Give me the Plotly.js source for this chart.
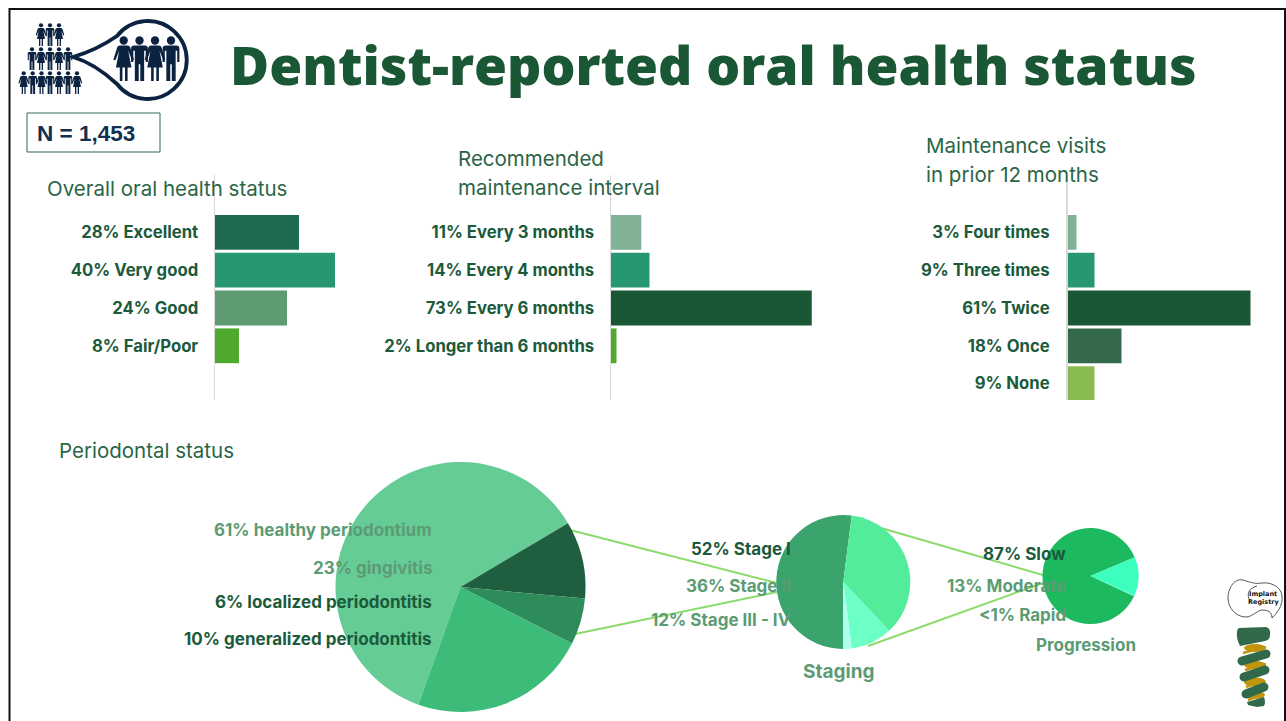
<!DOCTYPE html>
<html>
<head>
<meta charset="utf-8">
<script src="https://cdn.plot.ly/plotly-3.0.1.min.js"></script>
<style>html,body{margin:0;padding:0;background:#fff;overflow:hidden}#chart{width:1286px;height:721px}</style>
</head>
<body>
<div id="chart"></div>
<script>
// ---- data ----
const overallCats = ["Excellent","Very good","Good","Fair/Poor"];
const overallVals = [28,40,24,8];
const overallColors = ["#1F6B50","#279772","#5E9A72","#4FA92F"];

const intervalCats = ["Every 3 months","Every 4 months","Every 6 months","Longer than 6 months"];
const intervalVals = [11,14,73,2];
const intervalColors = ["#81B295","#279772","#1A5735","#4FA92F"];

const visitCats = ["Four times","Three times","Twice","Once","None"];
const visitVals = [3,9,61,18,9];
const visitColors = ["#81B295","#279772","#1A5735","#35694C","#8ABB50"];

const perioLabels = ["healthy periodontium","generalized periodontitis","localized periodontitis","gingivitis"];
const perioVals = [61,10,6,23];
const perioColors = ["#66CC96","#1F5F3F","#2E8B5A","#3DBB78"];

const stageLabels = ["Stage I","Stage II","Stage III","Stage IV"];
const stageVals = [52,36,10,2];
const stageColors = ["#3BA36C","#52EC9A","#6CFFC6","#ADFFF0"];

const progLabels = ["Slow","Moderate","Rapid"];
const progVals = [87,13,0.4];
const progColors = ["#1DB95F","#3CFFBE","#3CFFBE"];

// ---- layout helpers (page pixels to paper fractions) ----
const W = 1286, H = 721;
const fx = p => p / W, fy = p => 1 - p / H;
const DARK = "#1B5A3A", MUTED = "#5C9B74", TITLE = "#2A6546";
const LABEL_FONT = "Inter, 'Open Sans', sans-serif";

function ann(text, x, y, anchor, size, color, weight, family) {
  return {text, x: fx(x), y: fy(y), xref:"paper", yref:"paper", xanchor:anchor, yanchor:"middle",
    showarrow:false, borderpad:0, font:{family:family||LABEL_FONT, size, color, weight}};
}
function barTrace(cats, vals, colors, ax) {
  return {type:"bar", orientation:"h", x:vals, y:cats.map((c,i)=>vals[i]+"% "+c),
    marker:{color:colors, line:{width:0}}, xaxis:"x"+ax, yaxis:"y"+ax, hoverinfo:"skip", showlegend:false};
}
function pieTrace(labels, vals, colors, cx, cy, r, rotation) {
  return {type:"pie", labels, values:vals, sort:false, direction:"clockwise", rotation,
    marker:{colors, line:{width:0}}, textinfo:"none", hoverinfo:"skip", showlegend:false,
    domain:{x:[fx(cx-r),fx(cx+r)], y:[fy(cy+r),fy(cy-r)]}};
}
function xAx(left, pxPerPct, maxPct) {
  return {domain:[fx(left),fx(left+maxPct*pxPerPct)], range:[0,maxPct], visible:false, fixedrange:true};
}
function yAx(standoff, cats, vals, anchor, topPx) {
  const bandPx = 37.8, firstCentre = 232.4;
  return {domain:[fy(400),fy(topPx)], type:"category", categoryorder:"array",
    categoryarray:cats.map((c,i)=>vals[i]+"% "+c),
    range:[(400-firstCentre)/bandPx,(topPx-firstCentre)/bandPx], anchor, showline:true, linecolor:"#DADADA", linewidth:1.5,
    showgrid:false, zeroline:false, ticks:"", ticklabelstandoff:standoff, fixedrange:true,
    tickfont:{family:LABEL_FONT, size:16.7, color:DARK, weight:700}};
}

const data = [
  barTrace(overallCats, overallVals, overallColors, ""),
  barTrace(intervalCats, intervalVals, intervalColors, "2"),
  barTrace(visitCats, visitVals, visitColors, "3"),
  pieTrace(perioLabels, perioVals, perioColors, 460.5, 587, 125, 199.7),
  pieTrace(stageLabels, stageVals, stageColors, 843.3, 582, 67, 180),
  pieTrace(progLabels, progVals, progColors, 1090.5, 576, 48, 115)
];

function line(x0,y0,x1,y1){
  return {type:"line", xref:"paper", yref:"paper", x0:fx(x0), y0:fy(y0), x1:fx(x1), y1:fy(y1),
    line:{color:"#8ADB6C", width:2}, layer:"below"};
}

// ---- decorative icons ----
const INK = "#0B2240";
function person(x, top, h, female){
  const s = h/40, sx = s*1.15;
  const body = female
    ? "M7 8.5H13Q14.5 8.5 15 10L18 21 16.4 21.6 13.5 13 16 28H13V40H11V28H9V40H7V28H4L6.5 13 3.6 21.6 2 21 5 10Q5.5 8.5 7 8.5Z"
    : "M6 8.5H14Q16.5 8.5 16.5 11V23H14.8V13H13.6V40H10.6V25H9.4V40H6.4V13H5.2V23H3.5V11Q3.5 8.5 6 8.5Z";
  return `<g transform="translate(${x-10*sx},${top}) scale(${sx},${s})" fill="${INK}"><ellipse cx="10" cy="4" rx="${3.7/1.15}" ry="3.7"/><path d="${body}"/></g>`;
}
let icons = "";
[[41,1],[50,0],[59,1]].forEach(p=>icons+=person(p[0],23,23,p[1]));
[[32,0],[41,1],[50,0],[59,1],[68,0]].forEach(p=>icons+=person(p[0],47,23,p[1]));
[[23.7,1],[32.7,0],[41.5,1],[50,0],[59,1],[68,0],[77,1]].forEach(p=>icons+=person(p[0],71,23,p[1]));
[[123.7,1],[139.5,0],[155,1],[171,0]].forEach(p=>icons+=person(p[0],36,45,p[1]));
icons += `<path d="M73 57C90 52 104 45 117 36A39 39 0 1 1 117 84C104 72 90 62 73 57Z" fill="none" stroke="${INK}" stroke-width="3.8"/>`;
icons += `<path d="M1243 580C1233 578 1228 590 1228 598C1228 608 1236 617 1246 617C1252 617 1258 610 1262 610C1268 610 1272 612 1272 618C1278 612 1283 605 1282 596C1281 586 1270 582 1262 583C1256 584 1252 583 1243 580Z M1250 601C1246 594 1249 588 1257 586" fill="none" stroke="#111" stroke-width=".7"/>`;
const GOLD = "#C1950B", IMPL = "#33694B";
[[1255,648,11,4],[1255,665,11,4],[1255,682,11,4.5],[1255,695,10,4]].forEach(e=>
  icons += `<ellipse cx="${e[0]}" cy="${e[1]}" rx="${e[2]}" ry="${e[3]}" fill="${GOLD}"/>`);
[[1243,653,1266,647],[1245,670,1266,664],[1246,687,1264,680],[1248,700,1263,694]].forEach(l=>
  icons += `<line x1="${l[0]}" y1="${l[1]}" x2="${l[2]}" y2="${l[3]}" stroke="${GOLD}" stroke-width="2.5"/>`);
icons += `<path d="M1239 628L1266 627Q1271 628 1270 635Q1270 640 1265 641L1240 646Q1236 638 1237 632Q1237 629 1239 628Z" fill="${IMPL}"/>`;
[[1242,661,1266,654],[1244,677,1265,670],[1246,694,1264,687]].forEach(l=>
  icons += `<line x1="${l[0]}" y1="${l[1]}" x2="${l[2]}" y2="${l[3]}" stroke="${IMPL}" stroke-width="9" stroke-linecap="round"/>`);
icons += `<path d="M1247 702L1264 697Q1266 702 1264 706L1257 707 1248 705Z" fill="${IMPL}"/>`;
const svg = `<svg xmlns="http://www.w3.org/2000/svg" width="${W}" height="${H}" viewBox="0 0 ${W} ${H}">${icons}</svg>`;

const layout = {
  width:W, height:H, margin:{l:0,r:0,t:0,b:0,pad:0}, paper_bgcolor:"#fff", plot_bgcolor:"rgba(0,0,0,0)",
  showlegend:false, bargap:0.08,
  xaxis:xAx(215,3,70), xaxis2:xAx(611,2.75,80), xaxis3:xAx(1067.5,3,70),
  yaxis:yAx(12,overallCats,overallVals,"x",175),
  yaxis2:yAx(12,intervalCats,intervalVals,"x2",175),
  yaxis3:yAx(13,visitCats,visitVals,"x3",182),
  images:[{source:"data:image/svg+xml;charset=utf-8,"+encodeURIComponent(svg), xref:"paper", yref:"paper",
    x:0, y:1, sizex:1, sizey:1, xanchor:"left", yanchor:"top", sizing:"stretch", layer:"above"}],
  shapes:[
    line(570,530,777,583), line(575,634,777,592),
    line(881,528,1043,575), line(868,646,1043,583),
    {type:"rect", xref:"paper", yref:"paper", x0:fx(27), x1:fx(160), y0:fy(152), y1:fy(113),
      line:{color:"#2E6B4A",width:1}, fillcolor:"rgba(0,0,0,0)"},
    {type:"rect", xref:"paper", yref:"paper", x0:fx(9.5), x1:fx(1285), y0:fy(740), y1:fy(9),
      line:{color:"#111",width:2}, fillcolor:"rgba(0,0,0,0)"}
  ],
  annotations:[
    ann("Dentist-reported oral health status",229,65,"left",53.4,"#1A5735",800,"'Open Sans',sans-serif"),
    ann("N = 1,453",36,133,"left",22.5,"#12304F",700,"'Liberation Sans',sans-serif"),
    ann("Overall oral health status",45.5,188,"left",20.5,TITLE,400),
    ann("Recommended",456.5,158,"left",20.5,TITLE,400),
    ann("maintenance interval",456.5,187,"left",20.5,TITLE,400),
    ann("Maintenance visits",924.5,145,"left",20.5,TITLE,400),
    ann("in prior 12 months",924.5,174,"left",20.5,TITLE,400),
    ann("Periodontal status",57.5,450.5,"left",20.5,TITLE,400),
    ann("61% healthy periodontium",433,529.5,"right",17,MUTED,700),
    ann("23% gingivitis",433,567.5,"right",17,MUTED,700),
    ann("6% localized periodontitis",433,601.5,"right",17,DARK,700),
    ann("10% generalized periodontitis",433,638.5,"right",17,DARK,700),
    ann("52% Stage I",792,548.5,"right",17,DARK,700),
    ann("36% Stage II",792,585.5,"right",17,MUTED,700),
    ann("12% Stage III - IV",792,619.5,"right",17,MUTED,700),
    ann("Staging",839,671,"center",19,MUTED,700),
    ann("87% Slow",1067,553.5,"right",17,DARK,700),
    ann("13% Moderate",1067,585.5,"right",17,MUTED,700),
    ann("<1% Rapid",1067,614.5,"right",17,MUTED,700),
    ann("Progression",1086,645,"center",17,MUTED,700),
    ann("Implant",1263,594,"center",6.5,"#111",700,"'DejaVu Sans',sans-serif"),
    ann("Registry",1263,602,"center",6.5,"#111",700,"'DejaVu Sans',sans-serif")
  ]
};
Plotly.newPlot("chart", data, layout, {displayModeBar:false, staticPlot:true});
</script>
</body>
</html>
